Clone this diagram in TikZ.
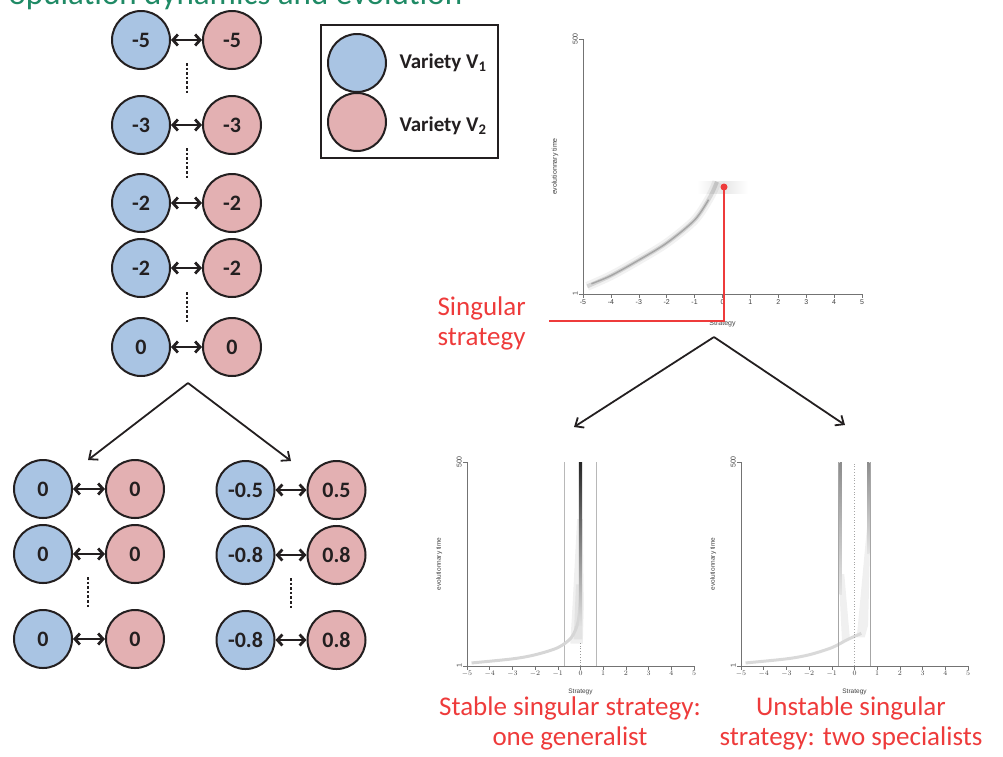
\documentclass[tikz,border=0pt]{standalone}
\usepackage{fontspec}
\setmainfont{Carlito}
\newfontfamily\plotfont{Liberation Sans}
\usetikzlibrary{arrows.meta}
\definecolor{vone}{HTML}{A9C4E3}
\definecolor{vtwo}{HTML}{E3B0B2}
\definecolor{hired}{HTML}{EE3B3B}
\definecolor{titlegreen}{HTML}{1F8A65}
\definecolor{ink}{HTML}{231F20}

\begin{document}
\begin{tikzpicture}[x=1pt,y=-1pt,
  varone/.style={circle,draw=ink,line width=2pt,fill=vone,minimum size=58pt,inner sep=0pt,text=ink,font=\bfseries\fontsize{22}{22}\selectfont},
  vartwo/.style={varone,fill=vtwo},
  link/.style={{Straight Barb[length=5pt,width=11pt]}-{Straight Barb[length=5pt,width=11pt]},line width=2.8pt,draw=ink},
  gap/.style={draw=ink,line width=2.6pt,dash pattern=on 2.6pt off 2pt},
  branch/.style={-{Straight Barb[length=7pt,width=12pt]},line width=1.8pt,draw=ink},
  axisline/.style={draw=black!55,line width=0.6pt},
  ticklab/.style={text=black!75,font=\plotfont\fontsize{7}{7}\selectfont,inner sep=1pt},
  redtext/.style={text=hired,font=\fontsize{27}{30}\selectfont,align=center},
]
  \useasboundingbox (0,0) rectangle (1003,756);
  \clip (0,0) rectangle (1003,756);
  % Title (cut at the top)
  \node[anchor=base west,inner sep=0pt,text=titlegreen,font=\fontsize{33}{33}\selectfont] (title) at (-8,4) {Population dynamics and evolution};

  % Populations moving to the singular strategy
  \foreach \y/\v [count=\i] in {40/-5,125/-3,203/-2,268/-2,347/0} {
    \node[varone] (a\i) at (141,\y) {\v};
    \node[vartwo] (b\i) at (232,\y) {\v};
    \draw[link] (a\i) -- (b\i);
  }
  \draw[gap] (187,63) -- (187,93);
  \draw[gap] (187,148) -- (187,178);
  \draw[gap] (187,292) -- (187,322);

  % Split into the two outcomes
  \coordinate (fork) at (188,383);
  \coordinate (forkl) at (88,460);
  \coordinate (forkr) at (291,461);
  \draw[branch] (fork) -- (forkl);
  \draw[branch] (fork) -- (forkr);

  % One generalist
  \foreach \y/\v [count=\i] in {489/0,554/0,639/0} {
    \node[varone] (c\i) at (43,\y) {\v};
    \node[vartwo] (d\i) at (135,\y) {\v};
    \draw[link] (c\i) -- (d\i);
  }
  \draw[gap] (88,577) -- (88,607);

  % Two specialists
  \foreach \y/\u/\v [count=\i] in {490/-0.5/0.5,555/-0.8/0.8,640/-0.8/0.8} {
    \node[varone] (e\i) at (245.5,\y) {\u};
    \node[vartwo] (f\i) at (336.5,\y) {\v};
    \draw[link] (e\i) -- (f\i);
  }
  \draw[gap] (291,578) -- (291,609);

  % Legend
  \node[draw=ink,line width=2pt,minimum width=177pt,minimum height=133pt,inner sep=0pt] (legend) at (409.5,91.5) {};
  \node[varone] (keyone) at (357,63) {};
  \node[vartwo] (keytwo) at (357,122) {};
  \node[anchor=west,text=ink,font=\bfseries\fontsize{21}{21}\selectfont] (keyonetext) at (396,63) {Variety V\textsubscript{1}};
  \node[anchor=west,text=ink,font=\bfseries\fontsize{21}{21}\selectfont] (keytwotext) at (396,126) {Variety V\textsubscript{2}};

  % Top plot: path to the singular strategy
  \begin{scope}[shift={(722.5,294)},x=27.9pt,y=255pt]
    \shade[left color=white,right color=white,middle color=black!10] (-0.9,0.395) rectangle (0.9,0.44);
    \draw[line width=9pt,black,opacity=0.05] plot[smooth] coordinates {(-4.85,0.03) (-4,0.072) (-3,0.133) (-2,0.2) (-1,0.29) (-0.45,0.38) (-0.2,0.44)};
    \draw[line width=4pt,black,opacity=0.12] plot[smooth] coordinates {(-4.85,0.03) (-4,0.072) (-3,0.133) (-2,0.2) (-1,0.29) (-0.45,0.38) (-0.2,0.44)};
    \draw[line width=1.5pt,black,opacity=0.22] plot[smooth] coordinates {(-4.7,0.04) (-4,0.072) (-3,0.133) (-2,0.2) (-1,0.29) (-0.5,0.37)};
    \draw[line width=1pt] (-5,0) -- (-5,0.04);
    % Axes
    \draw[axisline] (-5,0) -- (5,0);
    \draw[axisline] (-5,0) -- (-5,1);
    \foreach \t [count=\i] in {-5,...,5}
      \draw[axisline] (\t,0) -- ++(0pt,-4pt) node[ticklab,below] (ta\i) {\t};
    \draw[axisline] (-5,0) -- ++(-4pt,0pt) node[ticklab,rotate=90,anchor=south] (ya1) {1};
    \draw[axisline] (-5,1) -- ++(-4pt,0pt) node[ticklab,rotate=90,anchor=south] (ya2) {500};
    \node[ticklab] (xa) at (0,-0.118) {Strategy};
    \node[ticklab,rotate=90] (yla) at (-6,0.5) {evolutionnary time};
  \end{scope}

  % Singular strategy mark
  \node[circle,fill=hired,minimum size=7pt,inner sep=0pt] (sdot) at (724,187) {};
  \coordinate (sfoot) at (549,321);
  \draw[hired,line width=2.6pt] (sdot.center) |- (sfoot);
  \node[redtext,align=left,anchor=base west] (singular) at (434,345) {Singular\\strategy};

  % Split of the plots
  \coordinate (pfork) at (714,337);
  \coordinate (pforkl) at (574,427);
  \coordinate (pforkr) at (845,425);
  \draw[branch] (pfork) -- (pforkl);
  \draw[branch] (pfork) -- (pforkr);

  % Bottom left plot: stable
  \begin{scope}[shift={(580.5,666)},x=22.7pt,y=204pt]
    \draw[black!28,line width=1.4pt] (-0.7,0) -- (-0.7,1);
    \draw[black!28,line width=1.4pt] (0.7,0) -- (0.7,1);
    \fill[black!6] (-0.45,0.11) -- (-0.35,0.3) -- (-0.15,0.72) -- (0.1,0.72) -- (0.15,0.3) -- (0.1,0.11) -- cycle;
    \fill[black!11] (-0.3,0.13) -- (-0.2,0.4) -- (0.08,0.4) -- (0.08,0.13) -- cycle;
    \draw[black!16,line width=3pt] plot[smooth] coordinates {(-4.8,0.015) (-3,0.035) (-2,0.055) (-1,0.09) (-0.4,0.14) (-0.1,0.22) (0,0.35)};
    \draw[black!40,dotted,line width=0.8pt] (0,0) -- (0,0.12);
    \shade[bottom color=black!12,middle color=black!55,top color=black!85] (-0.07,0.2) rectangle (0.07,1);
    \draw[line width=1pt] (-5,0) -- (-5,0.02);
    % Axes
    \draw[axisline] (-5,0) -- (5,0);
    \draw[axisline] (-5,0) -- (-5,1);
    \foreach \t [count=\i] in {-5,...,5}
      \draw[axisline] (\t,0) -- ++(0pt,-4pt) node[ticklab,below] (tb\i) {$\t$};
    \draw[axisline] (-5,0) -- ++(-4pt,0pt) node[ticklab,rotate=90,anchor=south] (yb1) {1};
    \draw[axisline] (-5,1) -- ++(-4pt,0pt) node[ticklab,rotate=90,anchor=south] (yb2) {500};
    \node[ticklab,font=\plotfont\fontsize{6.5}{7}\selectfont] (xb) at (0,-0.128) {Strategy};
    \node[ticklab,font=\plotfont\fontsize{6.5}{7}\selectfont,rotate=90] (ylb) at (-6.23,0.5) {evolutionnary time};
  \end{scope}

  % Bottom right plot: unstable
  \begin{scope}[shift={(854.5,666)},x=22.7pt,y=204pt]
    \fill[black!6] (-0.55,0.12) -- (-0.7,0.45) -- (-0.45,0.45) -- (-0.2,0.13) -- cycle;
    \fill[black!6] (0.1,0.14) -- (0.55,0.68) -- (0.7,0.68) -- (0.6,0.2) -- (0.45,0.14) -- cycle;
    \draw[black!15,line width=3pt] plot[smooth] coordinates {(-4.8,0.015) (-3,0.035) (-2,0.055) (-1,0.09) (-0.3,0.13) (0.3,0.16)};
    \draw[black!35,dotted,line width=0.8pt] (0,0) -- (0,1);
    \draw[black!35,line width=1.2pt] (-0.7,0) -- (-0.7,1);
    \draw[black!35,line width=1.2pt] (0.7,0) -- (0.7,1);
    \shade[bottom color=black!10,top color=black!45] (-0.66,0.35) rectangle (-0.56,1);
    \shade[bottom color=black!10,top color=black!45] (0.56,0.55) rectangle (0.66,1);
    \draw[line width=1pt] (-5,0) -- (-5,0.02);
    % Axes
    \draw[axisline] (-5,0) -- (5,0);
    \draw[axisline] (-5,0) -- (-5,1);
    \foreach \t [count=\i] in {-5,...,5}
      \draw[axisline] (\t,0) -- ++(0pt,-4pt) node[ticklab,below] (tc\i) {$\t$};
    \draw[axisline] (-5,0) -- ++(-4pt,0pt) node[ticklab,rotate=90,anchor=south] (yc1) {1};
    \draw[axisline] (-5,1) -- ++(-4pt,0pt) node[ticklab,rotate=90,anchor=south] (yc2) {500};
    \node[ticklab,font=\plotfont\fontsize{6.5}{7}\selectfont] (xc) at (0,-0.128) {Strategy};
    \node[ticklab,font=\plotfont\fontsize{6.5}{7}\selectfont,rotate=90] (ylc) at (-6.23,0.5) {evolutionnary time};
  \end{scope}

  % Outcome labels
  \node[redtext,anchor=base] (stablelab) at (570,745) {Stable singular strategy:\\one generalist};
  \node[redtext,anchor=base] (unstablelab) at (851,745) {Unstable singular\\strategy: two specialists};
\end{tikzpicture}
\end{document}
